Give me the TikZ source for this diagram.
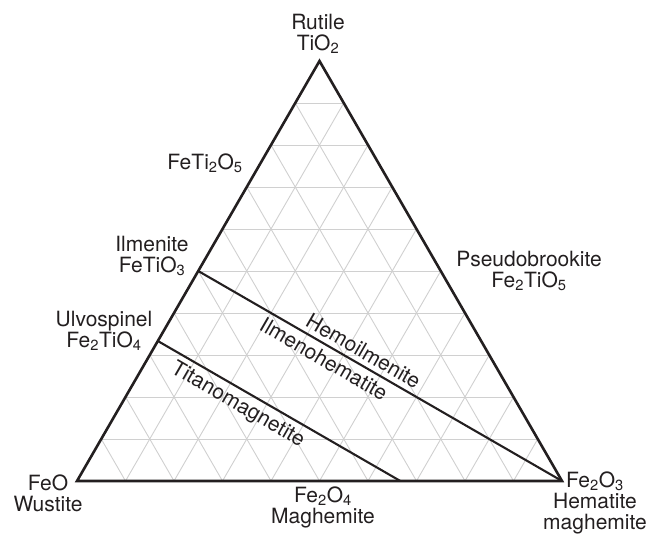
\documentclass[tikz,border=0pt]{standalone}
\usepackage{fontspec}
\setmainfont{TeX Gyre Heros}
\usetikzlibrary{calc}
\definecolor{gridgray}{RGB}{208,208,208}
\definecolor{ink}{RGB}{35,31,32}

\begin{document}
\begin{tikzpicture}[x=1pt, y=-1pt,
  rim/.style={line width=2.6pt, draw=ink, line join=miter},
  tieline/.style={line width=2.1pt, draw=ink},
  gridline/.style={line width=0.9pt, draw=gridgray},
  tag/.style={font=\fontsize{21}{21}\selectfont, text=ink, align=center, inner sep=0pt},
  bandtag/.style={font=\fontsize{21}{21}\selectfont, text=ink, sloped, inner sep=4.5pt}]
  \useasboundingbox (0,0) rectangle (650,535);
  \coordinate (feo) at (77,481);
  \coordinate (fe2o3) at (562,481);
  \coordinate (tio2) at (319.5,61);
  \foreach \i in {1,...,9} {
    \draw[gridline] ($(feo)!\i/10!(tio2)$) -- ($(fe2o3)!\i/10!(tio2)$);
    \draw[gridline] ($(feo)!\i/10!(fe2o3)$) -- ($(tio2)!\i/10!(fe2o3)$);
    \draw[gridline] ($(fe2o3)!\i/10!(feo)$) -- ($(tio2)!\i/10!(feo)$);
  }
  \draw[rim] (feo) -- (fe2o3) -- (tio2) -- cycle;
  \coordinate (ilm) at ($(feo)!0.5!(tio2)$);
  \coordinate (ulv) at ($(feo)!1/3!(tio2)$);
  \coordinate (mag) at ($(feo)!2/3!(fe2o3)$);
  \draw[tieline] (ilm) -- (fe2o3)
    node[bandtag, pos=0.436, above] (hemo) {Hemoilmenite}
    node[bandtag, pos=0.364, below] (ilmh) {Ilmenohematite};
  \draw[tieline] (ulv) -- (mag)
    node[bandtag, pos=0.361, below] (titano) {Titanomagnetite};
  \node[tag] (rutile) at (318,34) {Rutile\\TiO\textsubscript{2}};
  \node[tag] (feti2o5) at (205,163) {FeTi\textsubscript{2}O\textsubscript{5}};
  \node[tag] (ilmenite) at (152,256) {Ilmenite\\FeTiO\textsubscript{3}};
  \node[tag] (ulvo) at (104,331) {Ulvospinel\\Fe\textsubscript{2}TiO\textsubscript{4}};
  \node[tag] (pseudo) at (529,271) {Pseudobrookite\\Fe\textsubscript{2}TiO\textsubscript{5}};
  \node[tag] (wustite) at (48,493) {FeO\\Wustite};
  \node[tag] (hematite) at (595,503) {Fe\textsubscript{2}O\textsubscript{3}\\Hematite\\maghemite};
  \node[tag] (maghemite) at (323,507) {Fe\textsubscript{2}O\textsubscript{4}\\Maghemite};
\end{tikzpicture}
\end{document}
